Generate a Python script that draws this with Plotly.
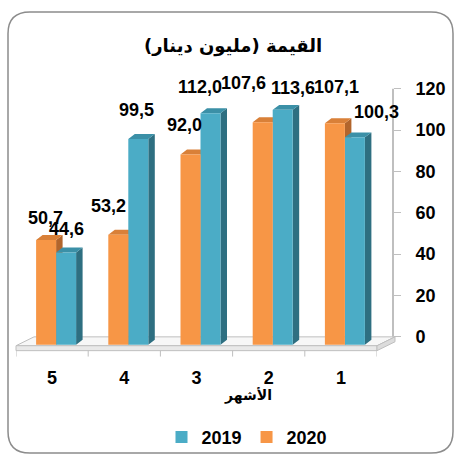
import plotly.graph_objects as go

# ---- data -------------------------------------------------------------
months = [1, 2, 3, 4, 5]
month_labels = ["1", "2", "3", "4", "5"]
values_2019 = [100.3, 113.6, 112.0, 99.5, 44.6]
values_2020 = [107.1, 107.6, 92.0, 53.2, 50.7]
y_ticks = [0, 20, 40, 60, 80, 100, 120]
chart_title = "القيمة (مليون دينار)"
x_title = "الأشهر"

# ---- geometry (pixels of the 456x457 canvas) --------------------------
W, H = 456, 457
PLOT_L, PLOT_R = 16, 377          # floor front edge = category band
PLOT_T, PLOT_B = 80, 350
BACK_ZERO = 335                   # value 0 on the back wall
FRONT_ZERO = 343                  # value 0 at the bars' front faces
PX_PER_UNIT = 2.1
X_PX = (PLOT_R - PLOT_L) / len(months)
DEPTH_X, DEPTH_Y = 6.5, 5.0       # 3-D bar depth offset in pixels
AXIS_X = 393

def fx(p):
    return p / W

def fy(p):
    return 1 - p / H

ORANGE = "#F79646"
ORANGE_TOP = "#D98038"
ORANGE_SIDE = "#B2652C"
BLUE = "#4BACC6"
BLUE_TOP = "#3B90A7"
BLUE_SIDE = "#2E6F81"
GRID = "#BFBFBF"
FONT_NUM = "Liberation Sans"
FONT_AR = "DejaVu Sans"

# series: name, values, front-face pixel span relative to category centre,
# colours, label offsets (dx, dy in px from front-top centre)
series = [
    dict(name="2020", values=values_2020, span=(-16, 4),
         front=ORANGE, top=ORANGE_TOP, side=ORANGE_SIDE,
         label_off=[(2, -36), (-19, -39), (-6.5, -30), (-10, -29), (-1, -21.5)]),
    dict(name="2019", values=values_2019, span=(4, 24),
         front=BLUE, top=BLUE_TOP, side=BLUE_SIDE,
         label_off=[(22, -25), (10, -22), (-10.5, -26), (-2, -29), (0, -24)]),
]

fig = go.Figure()

du = DEPTH_Y / PX_PER_UNIT

def xd(m, px):
    # pixel offset to the right -> data offset on the reversed axis
    return m - px / X_PX

# side and top faces (drawn beneath the front faces)
for s in series:
    a, b = s["span"]
    sx, sy, tx, ty = [], [], [], []
    for m, v in zip(months, s["values"]):
        sx += [xd(m, b), xd(m, b), xd(m, b + DEPTH_X), xd(m, b + DEPTH_X), xd(m, b), None]
        sy += [0, v, v + du, du, 0, None]
        tx += [xd(m, a), xd(m, b), xd(m, b + DEPTH_X), xd(m, a + DEPTH_X), xd(m, a), None]
        ty += [v, v, v + du, v + du, v, None]
    fig.add_trace(go.Scatter(x=sx, y=sy, mode="lines", fill="toself",
                             fillcolor=s["side"], line=dict(width=0),
                             showlegend=False, hoverinfo="skip", yaxis="y2"))
    fig.add_trace(go.Scatter(x=tx, y=ty, mode="lines", fill="toself",
                             fillcolor=s["top"], line=dict(width=0),
                             showlegend=False, hoverinfo="skip", yaxis="y2"))

# front faces as bars (2019 first so it leads the legend)
for s in reversed(series):
    a, b = s["span"]
    fig.add_trace(go.Bar(
        x=months, y=s["values"], name=s["name"],
        offset=-b / X_PX, width=(b - a) / X_PX,
        marker=dict(color=s["front"], line=dict(width=0)),
        yaxis="y3", hoverinfo="skip",
    ))

num_font = dict(family=FONT_NUM, size=18, color="black", weight="bold")

# value labels
for s in series:
    a, b = s["span"]
    centre = (a + b) / 2
    for m, v, (dx, dy) in zip(months, s["values"], s["label_off"]):
        fig.add_annotation(
            x=m, y=v, xref="x", yref="y3",
            text=f"{v:.1f}".replace(".", ","),
            showarrow=False, xanchor="center", yanchor="middle",
            xshift=centre + dx, yshift=-dy,
            font=num_font,
        )

shapes = []

def poly(points, fill, line_color, width=1):
    path = "M " + " L ".join(f"{fx(x):.5f},{fy(y):.5f}" for x, y in points) + " Z"
    return dict(type="path", xref="paper", yref="paper", path=path,
                fillcolor=fill, line=dict(color=line_color, width=width), layer="below")

# floor slab
shapes.append(poly([(PLOT_L, 344), (PLOT_R, 344), (PLOT_R + 18, BACK_ZERO), (PLOT_L + 18, BACK_ZERO)],
                   "#F7F7F7", GRID))
shapes.append(poly([(PLOT_L, 344), (PLOT_R, 344), (PLOT_R, 349), (PLOT_L, 349)], "#E9E9E9", GRID))
shapes.append(poly([(PLOT_R, 344), (PLOT_R + 18, BACK_ZERO), (PLOT_R + 18, BACK_ZERO + 5), (PLOT_R, 349)],
                   "#DCDCDC", GRID))

# category boundary ticks under the floor
for k in range(len(months) + 1):
    bx = 0.5 + k
    shapes.append(dict(type="line", xref="x", yref="paper", x0=bx, x1=bx,
                       y0=fy(349), y1=fy(355), line=dict(color=GRID, width=1)))

# back-wall value axis line
shapes.append(dict(type="line", xref="paper", yref="y", x0=fx(AXIS_X), x1=fx(AXIS_X),
                   y0=y_ticks[0], y1=y_ticks[-1], line=dict(color=GRID, width=2)))

# rounded outer frame
r = 22
x0b, y0b, x1b, y1b = 8, 5, 453, 453
frame = (f"M {fx(x0b + r)},{fy(y0b)} L {fx(x1b - r)},{fy(y0b)} "
         f"Q {fx(x1b)},{fy(y0b)} {fx(x1b)},{fy(y0b + r)} "
         f"L {fx(x1b)},{fy(y1b - r)} Q {fx(x1b)},{fy(y1b)} {fx(x1b - r)},{fy(y1b)} "
         f"L {fx(x0b + r)},{fy(y1b)} Q {fx(x0b)},{fy(y1b)} {fx(x0b)},{fy(y1b - r)} "
         f"L {fx(x0b)},{fy(y0b + r)} Q {fx(x0b)},{fy(y0b)} {fx(x0b + r)},{fy(y0b)} Z")
shapes.append(dict(type="path", xref="paper", yref="paper", path=frame,
                   line=dict(color="#8C8C8C", width=1.5), fillcolor="rgba(0,0,0,0)", layer="below"))

# titles
fig.add_annotation(x=fx(233), y=fy(40), xref="paper", yref="paper", text=chart_title,
                   showarrow=False, xanchor="center", yanchor="middle",
                   font=dict(family=FONT_AR, size=18, color="black", weight="bold"))
fig.add_annotation(x=fx(248), y=fy(395), xref="paper", yref="paper", text=x_title,
                   showarrow=False, xanchor="center", yanchor="middle",
                   font=dict(family=FONT_AR, size=14, color="black", weight="bold"))

y_back = [-(PLOT_B - BACK_ZERO) / PX_PER_UNIT, (BACK_ZERO - PLOT_T) / PX_PER_UNIT]
y_front = [-(PLOT_B - FRONT_ZERO) / PX_PER_UNIT, (FRONT_ZERO - PLOT_T) / PX_PER_UNIT]

fig.update_layout(
    width=W, height=H, autosize=False,
    margin=dict(l=0, r=0, t=0, b=0, pad=0),
    paper_bgcolor="white", plot_bgcolor="rgba(0,0,0,0)",
    barmode="overlay",
    shapes=shapes,
    xaxis=dict(domain=[fx(PLOT_L), fx(PLOT_R)], range=[5.5, 0.5],
               tickvals=months, ticktext=month_labels, ticks="",
               showline=False, showgrid=False, zeroline=False,
               tickfont=num_font, ticklabelstandoff=13, fixedrange=True),
    yaxis=dict(domain=[fy(PLOT_B), fy(PLOT_T)], range=y_back,
               side="right", anchor="free", position=fx(AXIS_X),
               tickvals=y_ticks, ticks="outside", ticklen=7, tickwidth=1,
               tickcolor=GRID, showline=False, showgrid=False, zeroline=False,
               tickfont=num_font, ticklabelstandoff=11, fixedrange=True),
    yaxis2=dict(overlaying="y", range=y_front, visible=False, fixedrange=True),
    yaxis3=dict(overlaying="y", range=y_front, visible=False, fixedrange=True),
    legend=dict(orientation="h", x=fx(247), xanchor="center", y=fy(437), yanchor="middle",
                font=num_font, traceorder="normal", bgcolor="rgba(0,0,0,0)"),
)

fig.write_html("out.html")
